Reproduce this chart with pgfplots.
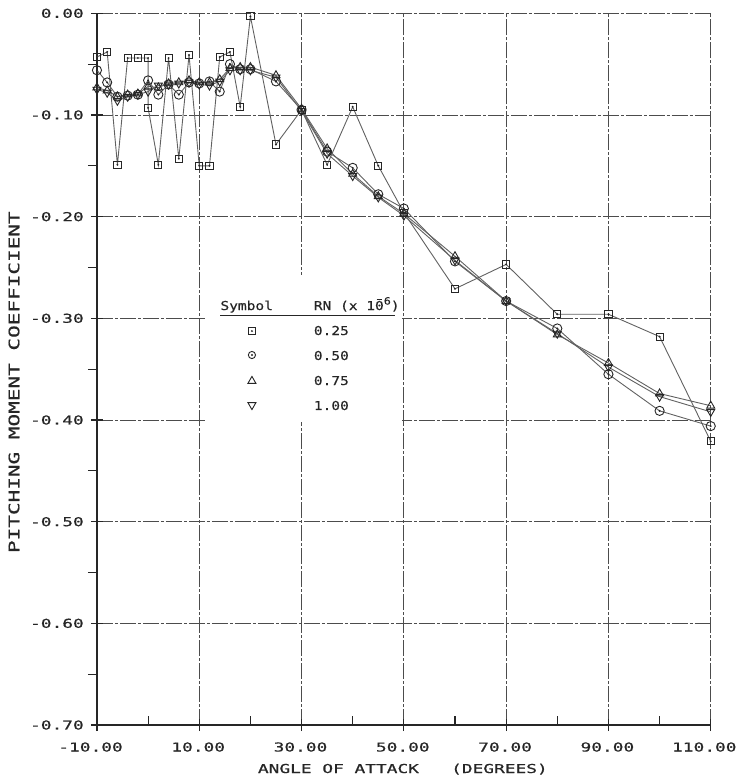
\documentclass[border=0pt]{standalone}
\usepackage{pgfplots}
\pgfplotsset{compat=1.18}
\usepackage{fontspec}
\setmainfont{DejaVu Sans Mono}[FakeStretch=1.45, FakeBold=0.6]
\newfontfamily\legfont{DejaVu Sans Mono}[FakeStretch=1.18, FakeBold=0.4]

% plotter-style symbols: open square and open circle with a centre dot
\pgfdeclareplotmark{sqdot}{%
  \pgfpathrectangle{\pgfqpoint{-\pgfplotmarksize}{-\pgfplotmarksize}}%
    {\pgfqpoint{2\pgfplotmarksize}{2\pgfplotmarksize}}%
  \pgfusepathqstroke
  \pgfpathcircle{\pgfpointorigin}{0.45bp}\pgfusepathqstroke}
\pgfdeclareplotmark{odot}{%
  \pgfpathcircle{\pgfpointorigin}{\pgfplotmarksize}\pgfusepathqstroke
  \pgfpathcircle{\pgfpointorigin}{0.45bp}\pgfusepathqstroke}

\tikzset{
  rnline/.style={black!62, line width=0.9bp},
  rnmark/.style={black!85, solid, line width=0.9bp},
}

\begin{document}
\begin{tikzpicture}
\begin{axis}[
  scale only axis, width=614bp, height=712bp,
  xmin=-10, xmax=110, ymin=-0.7, ymax=0,
  xtick={-10,10,...,110},
  ytick={-0.7,-0.6,-0.5,-0.4,-0.3,-0.2,-0.1,0},
  minor x tick num=1, minor y tick num=1,
  axis x line*=bottom, axis y line*=left,
  axis line style={black!85, line width=1.3bp},
  tick style={black!85, line width=1.1bp},
  major tick length=12bp, minor tick length=9bp, tick align=center,
  minor x tick style={yshift=4.5bp},
  minor y tick style={xshift=-4.5bp},
  grid=major,
  major grid style={black!70, line width=0.9bp, dash pattern=on 16bp off 2bp on 3bp off 2bp},
  clip=false,
  /pgf/number format/.cd, fixed, fixed zerofill, precision=2, assume math mode=true,
  /pgfplots/.cd,
  tick label style={black!85, font=\fontsize{12.3bp}{14bp}\selectfont},
  xticklabel style={anchor=base east, inner sep=0pt, yshift=-20.5bp, xshift=26bp},
  yticklabel style={anchor=east, inner sep=0pt, xshift=-7bp},
  xlabel={ANGLE OF ATTACK~~~(DEGREES)},
  xlabel style={at={(axis description cs:0.4984,0)}, anchor=base, yshift=-48bp,
    inner sep=0pt, black!85, font=\fontsize{12.3bp}{14bp}\selectfont},
  ylabel={PITCHING MOMENT COEFFICIENT},
  ylabel style={at={(axis description cs:-0.1352,0.4817)}, anchor=center,
    inner sep=0pt, black!85, font=\fontsize{14.5bp}{16bp}\selectfont},
  legend cell align=left,
  legend style={at={(axis cs:19.52,-0.2830)}, anchor=north west,
    draw=none, fill=none, inner sep=0pt, outer sep=0pt,
    row sep=13bp, column sep=58bp, text=black!85,
    font=\legfont\fontsize{12.3bp}{14bp}\selectfont,
    nodes={inner sep=0pt, text height=9bp, text depth=3bp}},
]

% blank panel behind the symbol key
\fill[white] (axis cs:11.11,-0.2573) rectangle (axis cs:49.61,-0.4018);

% RN = 0.25 x 10^6
\addplot[rnline, mark=sqdot, mark size=3.6bp, mark options={rnmark}, forget plot] coordinates {
(-10,-0.043) (-8,-0.038) (-6,-0.149) (-4,-0.044) (-2,-0.044) (0,-0.044) (0,-0.093)
(2,-0.149) (4,-0.044) (6,-0.143) (8,-0.041) (10,-0.150) (12,-0.150) (14,-0.043)
(16,-0.038) (18,-0.092) (20,-0.003) (25,-0.129) (30,-0.095) (35,-0.149) (40,-0.092)
(45,-0.150) (50,-0.196) (60,-0.271) (70,-0.247) (80,-0.296) (90,-0.296) (100,-0.318)
(110,-0.421)};

% RN = 0.50 x 10^6
\addplot[rnline, mark=odot, mark size=4.6bp, mark options={rnmark}, forget plot] coordinates {
(-10,-0.056) (-8,-0.068) (-6,-0.082) (-4,-0.081) (-2,-0.080) (0,-0.066) (2,-0.080)
(4,-0.070) (6,-0.080) (8,-0.068) (10,-0.069) (12,-0.067) (14,-0.077) (16,-0.050)
(18,-0.055) (20,-0.055) (25,-0.067) (30,-0.095) (35,-0.136) (40,-0.152) (45,-0.178)
(50,-0.192) (60,-0.244) (70,-0.283) (80,-0.310) (90,-0.355) (100,-0.391) (110,-0.406)};

% RN = 0.75 x 10^6
\addplot[rnline, mark=triangle, mark size=4.6bp, mark options={rnmark}, forget plot] coordinates {
(-10,-0.073) (-8,-0.076) (-6,-0.082) (-4,-0.080) (-2,-0.079) (0,-0.072) (2,-0.073)
(4,-0.069) (6,-0.068) (8,-0.066) (10,-0.068) (12,-0.068) (14,-0.065) (16,-0.054)
(18,-0.053) (20,-0.053) (25,-0.061) (30,-0.094) (35,-0.133) (40,-0.158) (45,-0.180)
(50,-0.197) (60,-0.239) (70,-0.283) (80,-0.316) (90,-0.344) (100,-0.374) (110,-0.386)};

% RN = 1.00 x 10^6
\addplot[rnline, mark=triangle, mark size=4.6bp, mark options={rnmark, rotate=180}, forget plot] coordinates {
(-10,-0.075) (-8,-0.078) (-6,-0.086) (-4,-0.082) (-2,-0.080) (0,-0.077) (2,-0.071)
(4,-0.070) (6,-0.069) (8,-0.068) (10,-0.070) (12,-0.071) (14,-0.067) (16,-0.056)
(18,-0.056) (20,-0.056) (25,-0.063) (30,-0.096) (35,-0.138) (40,-0.160) (45,-0.181)
(50,-0.199) (60,-0.243) (70,-0.283) (80,-0.315) (90,-0.348) (100,-0.377) (110,-0.392)};

% symbol key
\addlegendimage{empty legend}
\addlegendentry{\llap{\rlap{\raisebox{-6bp}{\rule{175bp}{1bp}}}Symbol\hspace{41bp}}RN (x 1\rlap{\hspace{1.6bp}\raisebox{10bp}{\rule{5.5bp}{0.8bp}}}0\raisebox{5.5bp}{\fontsize{10bp}{11bp}\selectfont 6})}
\addlegendimage{legend image code/.code={\draw[mark=sqdot, mark size=3.6bp, black!85, line width=0.9bp] plot coordinates {(0bp,1bp)};}}
\addlegendentry{0.25}
\addlegendimage{legend image code/.code={\draw[mark=odot, mark size=3.6bp, black!85, line width=0.9bp] plot coordinates {(0bp,2bp)};}}
\addlegendentry{0.50}
\addlegendimage{legend image code/.code={\draw[mark=triangle, mark size=4.6bp, black!85, line width=0.9bp] plot coordinates {(0bp,1bp)};}}
\addlegendentry{0.75}
\addlegendimage{legend image code/.code={\draw[mark=triangle, mark size=4.6bp, mark options={rotate=180}, black!85, line width=0.9bp] plot coordinates {(0bp,2bp)};}}
\addlegendentry{1.00}
\end{axis}
\pgfresetboundingbox
\path (current axis.south west) ++(-97bp,-55bp) rectangle ([xshift=31bp,yshift=13.3bp]current axis.north east);
\end{tikzpicture}
\end{document}
